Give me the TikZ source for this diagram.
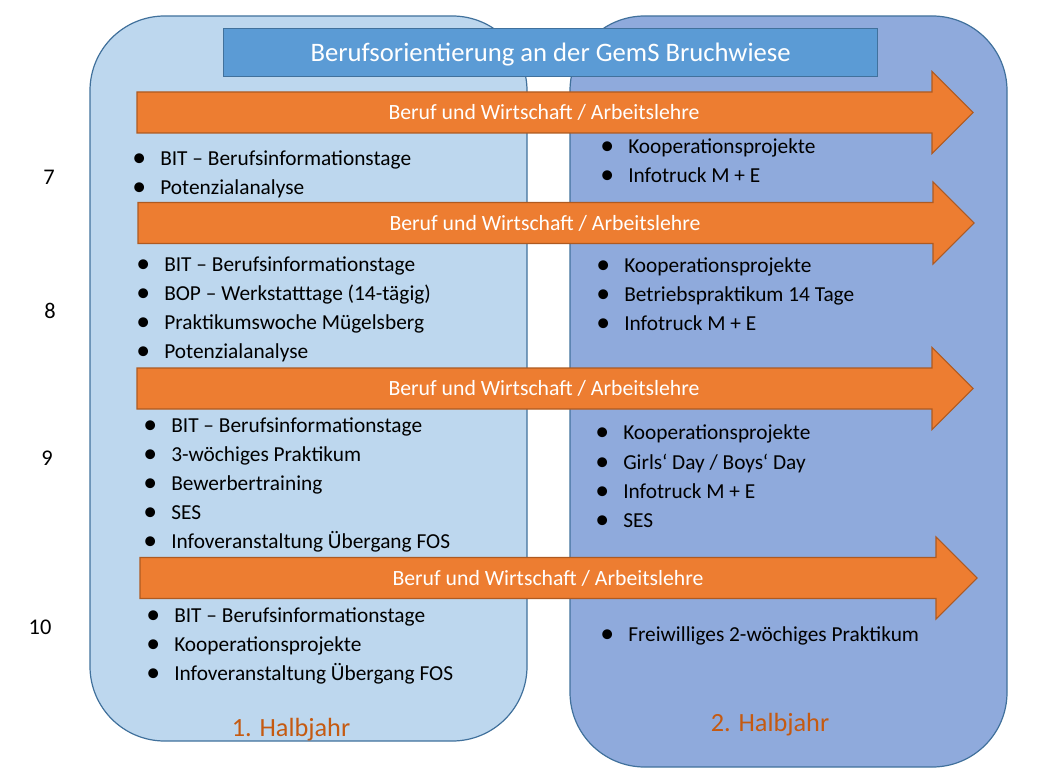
\documentclass[tikz,border=0pt]{standalone}
\usepackage{fontspec}
\setmainfont{Carlito}
\definecolor{boxL}{HTML}{BDD7EE}
\definecolor{boxR}{HTML}{8FAADC}
\definecolor{boxline}{HTML}{41719C}
\definecolor{titlefill}{HTML}{5B9BD5}
\definecolor{orangefill}{HTML}{ED7D31}
\definecolor{orangeline}{HTML}{AE5A21}
\definecolor{halbtext}{HTML}{C55A11}
\tikzset{
  halfbox/.style={draw=boxline, line width=0.9pt, rounded corners=56pt},
  titlebox/.style={draw=boxline, fill=titlefill, line width=0.9pt},
  bwarrowshape/.style={draw=orangeline, fill=orangefill, line width=0.8pt},
  arrowtext/.style={text=white, inner sep=0pt, text height=10.5pt, text depth=0pt, font=\fontsize{16.3pt}{19pt}\selectfont},
  itm/.style={anchor=west, inner sep=0pt, text height=10.3pt, text depth=0pt, font=\fontsize{16pt}{19pt}\selectfont},
  yearlabel/.style={inner sep=0pt, text height=10.8pt, text depth=0pt, font=\fontsize{16.8pt}{19pt}\selectfont},
  halbjahr/.style={text=halbtext, inner sep=0pt, text height=12.7pt, text depth=0pt, font=\fontsize{19.7pt}{23pt}\selectfont},
}
\newcommand\bwarrow[5]{%
  \draw[bwarrowshape] (#2,#4-20.5) -- (#3-41,#4-20.5) -- (#3-41,#4-41) -- (#3,#4) -- (#3-41,#4+41) -- (#3-41,#4+20.5) -- (#2,#4+20.5) -- cycle;
  \node[arrowtext] (#1) at (#5,#4) {Beruf und Wirtschaft / Arbeitslehre};}
\newcommand\itemnode[4]{\node[itm] (#1) at (#2,#3) {\llap{\raisebox{-0.6pt}{\scalebox{1.3}{\textbullet}}\hspace{10.5pt}}#4};}
\begin{document}
\begin{tikzpicture}[x=0.75pt,y=-0.75pt]
\useasboundingbox (0,0) rectangle (1049,781);
% half-year panels
\draw[halfbox, fill=boxL] (90,16) rectangle (527,741);
\draw[halfbox, fill=boxR] (570,16) rectangle (1007,767);
% title
\node[titlebox, minimum width=490.5pt, minimum height=36pt, anchor=north west, text=white, text height=12.9pt, text depth=0pt, font=\fontsize{20pt}{23pt}\selectfont] (title) at (223,28) {Berufsorientierung an der GemS Bruchwiese};
% arrows
\bwarrow{a7}{137}{973}{112.5}{544}
\bwarrow{a8}{138}{974}{223}{545}
\bwarrow{a9}{137}{973}{388.5}{544}
\bwarrow{a10}{140}{977}{578}{548}
% year labels
\node[yearlabel] (y7) at (49,177) {7};
\node[yearlabel] (y8) at (50,311) {8};
\node[yearlabel] (y9) at (47,458) {9};
\node[yearlabel] (y10) at (40,627) {10};
% year 7
\itemnode{l7a}{160}{159}{BIT – Berufsinformationstage}
\itemnode{l7b}{160}{188}{Potenzialanalyse}
\itemnode{r7a}{628}{147}{Kooperationsprojekte}
\itemnode{r7b}{628}{176}{Infotruck M + E}
% year 8
\itemnode{l8a}{164}{265}{BIT – Berufsinformationstage}
\itemnode{l8b}{164}{294}{BOP – Werkstatttage (14-tägig)}
\itemnode{l8c}{164}{323}{Praktikumswoche Mügelsberg}
\itemnode{l8d}{164}{352}{Potenzialanalyse}
\itemnode{r8a}{624}{266}{Kooperationsprojekte}
\itemnode{r8b}{624}{295}{Betriebspraktikum 14 Tage}
\itemnode{r8c}{624}{324}{Infotruck M + E}
% year 9
\itemnode{l9a}{171}{426}{BIT – Berufsinformationstage}
\itemnode{l9b}{171}{455}{3-wöchiges Praktikum}
\itemnode{l9c}{171}{484}{Bewerbertraining}
\itemnode{l9d}{171}{513}{SES}
\itemnode{l9e}{171}{542}{Infoveranstaltung Übergang FOS}
\itemnode{r9a}{623}{433}{Kooperationsprojekte}
\itemnode{r9b}{623}{463}{Girls‘ Day / Boys‘ Day}
\itemnode{r9c}{623}{492}{Infotruck M + E}
\itemnode{r9d}{623}{521}{SES}
% year 10
\itemnode{l10a}{174}{616}{BIT – Berufsinformationstage}
\itemnode{l10b}{174}{645}{Kooperationsprojekte}
\itemnode{l10c}{174}{674}{Infoveranstaltung Übergang FOS}
\itemnode{r10a}{628}{635}{Freiwilliges 2-wöchiges Praktikum}
% half-year labels
\node[halbjahr] (h1) at (291,728) {1. Halbjahr};
\node[halbjahr] (h2) at (770,723) {2. Halbjahr};
\end{tikzpicture}
\end{document}
